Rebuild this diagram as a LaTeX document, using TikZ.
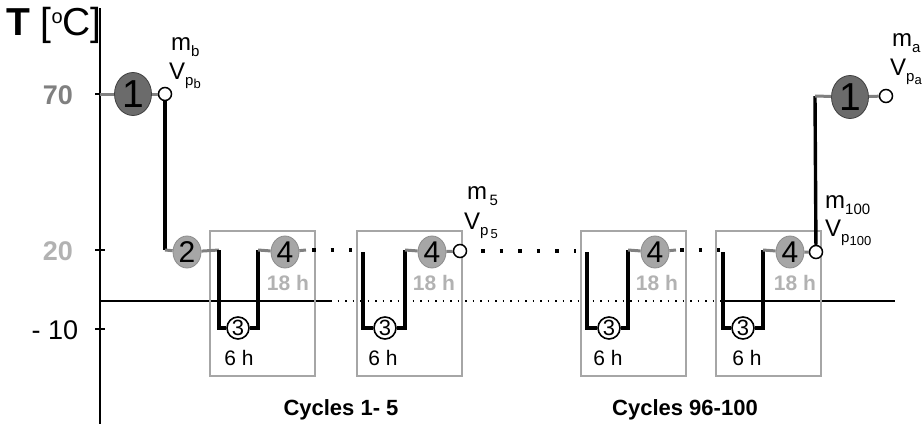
\documentclass[tikz,border=0pt]{standalone}
\usepackage{fontspec}
\setmainfont{Liberation Sans}
\usetikzlibrary{shapes.geometric}
\newcommand{\sbs}[1]{\raisebox{-0.5ex}{\fontsize{15}{15}\selectfont #1}}
\newcommand{\ssbs}[1]{\raisebox{-0.4ex}{\fontsize{13}{13}\selectfont #1}}
\begin{document}
\begin{tikzpicture}[x=1pt,y=-1pt,
  big/.style={ellipse,draw=black!75,line width=0.8pt,fill=black!58,minimum width=37pt,minimum height=43pt,inner sep=0pt,font=\fontsize{39}{39}\selectfont},
  mid/.style={ellipse,draw=black!45,line width=0.8pt,fill=black!35,minimum width=28pt,minimum height=32pt,inner sep=0pt,font=\fontsize{30}{30}\selectfont},
  cold/.style={circle,draw=black,line width=1.6pt,fill=white,minimum size=22pt,inner sep=0pt,font=\fontsize{22}{22}\selectfont},
  port/.style={circle,draw=black,line width=1.5pt,fill=white,minimum size=13pt,inner sep=0pt},
  hot/.style={draw=black!50,line width=3pt},
  stage/.style={draw=black,line width=3.4pt},
  cyclebox/.style={draw=black!35,line width=1.3pt},
  dots/.style={line width=3.5pt,dash pattern=on 3.5pt off 15.1pt,black},
  lbl/.style={font=\fontsize{24}{26}\selectfont,anchor=west,inner sep=0pt},
  hrs/.style={font=\fontsize{21}{21}\selectfont},
  hrsg/.style={font=\bfseries\fontsize{21}{21}\selectfont,text=black!30},
  cyc/.style={font=\bfseries\fontsize{22}{22}\selectfont}]
\useasboundingbox (0,0) rectangle (922,424);
% axis
\draw[line width=1.7pt] (100,8) -- (100,424);
\foreach \yy in {94,250,329} \draw[line width=1.2pt] (95,\yy) -- (105,\yy);
\node[anchor=west,inner sep=0pt] (tlab) at (6,25) {\fontsize{39}{39}\selectfont\textbf{T} [\raisebox{0.55ex}{\fontsize{20}{20}\selectfont o}C]};
\node[font=\bfseries\fontsize{27}{27}\selectfont,text=black!50] (t70) at (58,95) {70};
\node[font=\bfseries\fontsize{27}{27}\selectfont,text=black!30] (t20) at (58,251) {20};
\node[font=\fontsize{27}{27}\selectfont] (tm10) at (55,330) {- 10};
% zero line
\draw[line width=1.3pt] (100,301) -- (330,301);
\draw[line width=1.4pt,dash pattern=on 1.5pt off 6pt] (330,301) -- (725,301);
\draw[line width=1.3pt] (725,301) -- (895,301);
% boxes
\foreach \bx in {210,357,581,716}
  \draw[cyclebox] (\bx,231) rectangle ++(105,145);
% start
\coordinate (ax70) at (100,94);
\node[big] (n1a) at (133,94) {1};
\node[port] (pb) at (165,94) {};
\coordinate (c2) at (165,250);
\node[mid] (n2) at (187,252) {2};
\draw[hot] (ax70) -- (n1a) -- (pb);
\draw[stage] (pb) -- (c2);
\draw[hot] (c2) -- (n2);
% cycle 1
\coordinate (a1) at (219,250); \coordinate (a2) at (219,328);
\node[cold] (n31) at (238,328) {3};
\coordinate (a3) at (258,328); \coordinate (a4) at (258,250);
\node[mid] (n41) at (285,252) {4};
\coordinate (a5) at (306,250);
\draw[hot] (n2) -- (a1);
\draw[stage] (a1) -- (a2) -- (n31) -- (a3) -- (a4);
\draw[hot] (a4) -- (n41) -- (a5);
\node[hrsg] (h181) at (288,283) {18 h};
\node[hrs] (h61) at (239,358) {6 h};
\coordinate (d1) at (312,250); \coordinate (d2) at (352,250);
\draw[dots] (d1) -- (d2);
% cycle 5
\coordinate (b1) at (363,252); \coordinate (b2) at (363,328);
\node[cold] (n32) at (385,328) {3};
\coordinate (b3) at (405,328); \coordinate (b4) at (405,250);
\node[mid] (n42) at (432,252) {4};
\node[port] (p5) at (460,251) {};
\draw[stage] (b1) -- (b2) -- (n32) -- (b3) -- (b4);
\draw[hot] (b4) -- (n42) -- (p5);
\node[hrsg] (h182) at (434,283) {18 h};
\node[hrs] (h62) at (383,358) {6 h};
\node[lbl] (m5) at (467,196) {m\sbs{\,5}};
\node[lbl] (v5) at (464,226) {V\sbs{p\ssbs{\,5}}};
\coordinate (e1) at (481,251); \coordinate (e2) at (576,251);
\draw[dots] (e1) -- (e2);
% cycle 96
\coordinate (c1) at (587,252); \coordinate (cc2) at (587,328);
\node[cold] (n33) at (609,328) {3};
\coordinate (cc3) at (628,328); \coordinate (cc4) at (628,250);
\node[mid] (n43) at (655,252) {4};
\coordinate (cc5) at (676,250);
\draw[stage] (c1) -- (cc2) -- (n33) -- (cc3) -- (cc4);
\draw[hot] (cc4) -- (n43) -- (cc5);
\node[hrsg] (h183) at (657,283) {18 h};
\node[hrs] (h63) at (608,358) {6 h};
\coordinate (f1) at (680,250); \coordinate (f2) at (720,250);
\draw[dots] (f1) -- (f2);
% cycle 100
\coordinate (g1) at (723,252); \coordinate (g2) at (723,328);
\node[cold] (n34) at (743,328) {3};
\coordinate (g3) at (763,328); \coordinate (g4) at (763,250);
\node[mid] (n44) at (790,252) {4};
\node[port] (p100) at (816,252) {};
\draw[stage] (g1) -- (g2) -- (n34) -- (g3) -- (g4);
\draw[hot] (g4) -- (n44) -- (p100);
\node[hrsg] (h184) at (795,283) {18 h};
\node[hrs] (h64) at (747,358) {6 h};
\node[lbl] (m100) at (825,205) {m\sbs{100}};
\node[lbl] (v100) at (825,233) {V\sbs{p\ssbs{100}}};
% end
\coordinate (top) at (815,96);
\node[big] (n1b) at (850,97) {1};
\node[port] (pa) at (886,96) {};
\draw[stage] (p100) -- (top);
\draw[hot] (top) -- (n1b) -- (pa);
\node[lbl] (ma) at (892,43) {m\sbs{a}};
\node[lbl] (va) at (890,72) {V\sbs{p\ssbs{a}}};
\node[lbl] (mb) at (171,47) {m\sbs{b}};
\node[lbl] (vb) at (169,76) {V\sbs{p\ssbs{b}}};
% cycle labels
\node[cyc] (cy1) at (341,410) {Cycles 1- 5};
\node[cyc] (cy2) at (685,410) {Cycles 96-100};
\end{tikzpicture}
\end{document}
